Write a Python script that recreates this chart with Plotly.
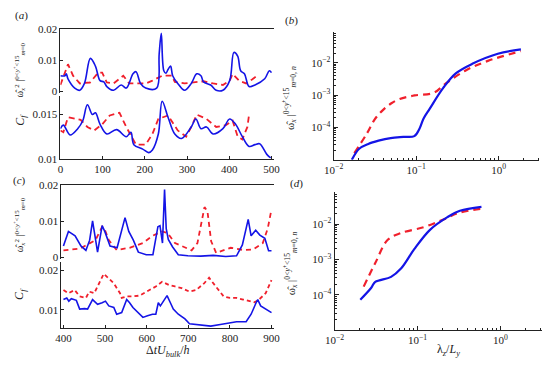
import plotly.graph_objects as go

W, H = 549, 366

# ---------------- data ----------------
# panel (a) top: vorticity energy vs time (0..500)
a_top_blue_x = [0, 11, 14, 18, 34, 46, 57, 71, 83, 94, 103, 110, 126, 144, 156, 172, 179, 190, 202, 228,
                234, 239, 245, 250, 255, 261, 266, 278, 294, 310, 323, 333, 339, 356, 369, 385, 401, 411,
                420, 427, 436, 447, 461, 484, 495, 500]
a_top_blue_y = [0.005, 0.005, 0.0056, 0.004, 0.001, 0.0003, 0.0025, 0.0106, 0.0081, 0.0034, 0.003, 0.0015,
                0.0003, 0.002, 0.001, 0.0056, 0.0063, 0.0025, 0.001, 0.001, 0.012, 0.0187, 0.0066, 0.0058,
                0.007, 0.0081, 0.005, 0.0025, 0.0003, 0.0025, 0.0056, 0.005, 0.003, 0.002, 0.0003, 0.0003,
                0.0034, 0.0125, 0.0113, 0.0066, 0.0056, 0.0015, 0.002, 0.004, 0.0066, 0.006]
a_top_red_x = [0, 8, 18, 30, 46, 70, 90, 99, 110, 126, 149, 163, 202, 218, 241, 264, 271, 294, 320, 339,
               362, 385, 401, 408, 424, 440, 454, 466]
a_top_red_y = [0.002, 0.005, 0.0087, 0.005, 0.0025, 0.0028, 0.006, 0.006, 0.0028, 0.0025, 0.005, 0.0025,
               0.0025, 0.0034, 0.005, 0.005, 0.003, 0.0025, 0.0028, 0.0032, 0.0025, 0.002, 0.0034, 0.0056,
               0.0033, 0.0025, 0.0038, 0.005]

# panel (a) bottom: Cf vs time
a_cf_blue_x = [0, 7, 23, 41, 53, 64, 76, 83, 94, 110, 133, 156, 167, 174, 195, 209, 218, 232, 241, 255,
               271, 287, 310, 321, 333, 346, 362, 385, 401, 415, 431, 447, 461, 472, 489, 498]
a_cf_blue_y = [0.0134, 0.0138, 0.0127, 0.0134, 0.0143, 0.0161, 0.015, 0.0152, 0.0139, 0.0128, 0.0133,
               0.0125, 0.013, 0.0116, 0.0111, 0.0107, 0.011, 0.0128, 0.0165, 0.0147, 0.0128, 0.0123,
               0.0136, 0.0145, 0.0134, 0.0136, 0.0128, 0.0134, 0.0145, 0.0139, 0.0125, 0.0114, 0.0116,
               0.0117, 0.0105, 0.0101]
a_cf_red_x = [0, 7, 18, 34, 48, 64, 80, 99, 117, 140, 156, 179, 202, 218, 232, 255, 278, 298, 310, 323,
              346, 369, 392, 408, 420, 431, 443, 447]
a_cf_red_y = [0.0132, 0.013, 0.0147, 0.0145, 0.0144, 0.0136, 0.0132, 0.0139, 0.0149, 0.0152, 0.0136,
              0.0116, 0.0116, 0.0128, 0.0145, 0.0149, 0.0132, 0.0125, 0.0136, 0.015, 0.0145, 0.0136,
              0.0138, 0.0143, 0.0125, 0.0122, 0.0136, 0.015]

# panel (c) top
c_top_blue_x = [400, 412, 428, 442, 454, 463, 470, 482, 493, 500, 512, 529, 548, 557, 568, 580, 599, 615,
                627, 632, 638, 643, 647, 652, 662, 676, 699, 730, 760, 790, 816, 830, 844, 851, 862, 872,
                884, 893, 900]
c_top_blue_y = [0.0032, 0.0072, 0.006, 0.0032, 0.002, 0.0048, 0.0101, 0.0015, 0.0088, 0.007, 0.0032,
                0.0027, 0.011, 0.0072, 0.0048, 0.0015, 0.0008, 0.0008, 0.0085, 0.0088, 0.004, 0.0187,
                0.008, 0.005, 0.003, 0.0008, 0.0005, 0.0004, 0.0006, 0.0003, 0.0005, 0.0035, 0.0105,
                0.006, 0.0075, 0.0062, 0.0053, 0.0019, 0.0019]
c_top_red_x = [400, 412, 440, 477, 493, 500, 509, 528, 559, 591, 614, 637, 650, 668, 690, 708, 722, 739,
               746, 755, 767, 785, 802, 832, 855, 879, 891, 900]
c_top_red_y = [0.002, 0.0021, 0.0025, 0.0048, 0.0085, 0.0075, 0.0048, 0.0021, 0.0027, 0.004, 0.006,
               0.0072, 0.0068, 0.004, 0.0028, 0.002, 0.004, 0.0139, 0.0128, 0.0045, 0.0013, 0.0021,
               0.0027, 0.0021, 0.0022, 0.004, 0.008, 0.0133]

# panel (c) bottom
c_cf_blue_x = [400, 408, 413, 419, 431, 439, 451, 458, 470, 482, 493, 501, 509, 521, 528, 540, 552, 559,
               567, 579, 591, 602, 614, 622, 628, 633, 641, 649, 657, 664, 676, 692, 703, 723, 754, 777,
               800, 816, 839, 851, 863, 867, 874, 886, 900]
c_cf_blue_y = [0.0126, 0.013, 0.0122, 0.0128, 0.0124, 0.0102, 0.0103, 0.0102, 0.0126, 0.0114, 0.0118,
               0.0122, 0.011, 0.0106, 0.0089, 0.0093, 0.0126, 0.0118, 0.0106, 0.0093, 0.0081, 0.0085,
               0.0089, 0.0089, 0.0118, 0.011, 0.0122, 0.0136, 0.0118, 0.0102, 0.0089, 0.0077, 0.0065,
               0.0063, 0.0059, 0.0063, 0.0067, 0.007, 0.007, 0.0089, 0.0118, 0.0126, 0.011, 0.0102, 0.0093]
c_cf_red_x = [400, 412, 427, 439, 454, 462, 474, 486, 497, 509, 521, 536, 540, 552, 567, 583, 606, 622,
              637, 653, 668, 684, 703, 719, 738, 750, 769, 785, 800, 816, 832, 847, 859, 870, 886, 900]
c_cf_red_y = [0.015, 0.0142, 0.015, 0.0134, 0.013, 0.0146, 0.0142, 0.0167, 0.0191, 0.0179, 0.0167,
              0.0142, 0.013, 0.0134, 0.0134, 0.0136, 0.015, 0.0159, 0.0171, 0.0163, 0.0159, 0.0155,
              0.0146, 0.015, 0.0167, 0.0181, 0.0155, 0.0134, 0.013, 0.013, 0.0126, 0.0122, 0.0119,
              0.0126, 0.0142, 0.0175]

# panel (b): spectra vs lambda_z / L_y
b_blue_x = [0.0166, 0.0204, 0.0263, 0.035, 0.049, 0.07, 0.095, 0.11, 0.123, 0.145, 0.214, 0.302, 0.479, 0.977, 1.86]
b_blue_y = [1.0e-5, 2.2e-5, 3.1e-5, 3.9e-5, 4.7e-5, 5.1e-5, 5.4e-5, 9.3e-5, 1.9e-4, 3.7e-4, 1.7e-3, 4.7e-3, 9.3e-3, 1.9e-2, 2.6e-2]
b_red_x = [0.0178, 0.0251, 0.0316, 0.0398, 0.0501, 0.0631, 0.0955, 0.162, 0.229, 0.398, 0.741, 1.86]
b_red_y = [1.6e-5, 6.3e-5, 1.8e-4, 3.5e-4, 5.6e-4, 7.6e-4, 9.8e-4, 1.17e-3, 2.3e-3, 5.8e-3, 1.15e-2, 2.3e-2]

# panel (d)
d_blue_x = [0.0204, 0.0275, 0.0309, 0.0479, 0.0631, 0.0912, 0.141, 0.229, 0.324, 0.589]
d_blue_y = [7.2e-5, 1.55e-4, 2.3e-4, 3.2e-4, 5.5e-4, 1.95e-3, 6.9e-3, 1.58e-2, 2.4e-2, 3.1e-2]
d_red_x = [0.0224, 0.0309, 0.0437, 0.0631, 0.12, 0.209, 0.324, 0.589]
d_red_y = [1.7e-4, 7.9e-4, 3.6e-3, 5.6e-3, 8.3e-3, 1.38e-2, 2.14e-2, 2.75e-2]

lin_ticks = [0, 0.01, 0.02]
lin_ticktext = ["0", "0.01", "0.02"]
log_major = [1e-4, 1e-3, 1e-2]
log_major_text = ["10<sup>−4</sup>", "10<sup>−3</sup>", "10<sup>−2</sup>"]
x_log_major = [0.01, 0.1, 1]
x_log_major_text = ["10<sup>−2</sup>", "10<sup>−1</sup>", "10<sup>0</sup>"]
minor_vals = [k * 10 ** e for e in range(-6, 2) for k in range(2, 10)]

BLUE = "#1414e6"
RED = "#f0202c"
FONT = "Liberation Serif"


def dom_x(p0, p1):
    return [p0 / W, p1 / W]


def dom_y(top, bottom):
    return [1 - bottom / H, 1 - top / H]


fig = go.Figure()


def add(x, y, xa, ya, color, dash=None, width=1.6, shape="linear"):
    fig.add_trace(go.Scatter(x=x, y=y, xaxis=xa, yaxis=ya, mode="lines",
                             line=dict(color=color, width=width, dash=dash, shape=shape),
                             showlegend=False, hoverinfo="skip"))


add(a_top_red_x, a_top_red_y, "x", "y", RED, "6px,4px", 1.8)
add(a_top_blue_x, a_top_blue_y, "x", "y", BLUE, None, 1.6, "spline")
add(a_cf_red_x, a_cf_red_y, "x2", "y2", RED, "6px,4px", 1.8)
add(a_cf_blue_x, a_cf_blue_y, "x2", "y2", BLUE, None, 1.6, "spline")
add(c_top_red_x, c_top_red_y, "x3", "y3", RED, "5px,4px", 1.8)
add(c_top_blue_x, c_top_blue_y, "x3", "y3", BLUE, None, 1.6)
add(c_cf_red_x, c_cf_red_y, "x4", "y4", RED, "4px,3px", 1.8)
add(c_cf_blue_x, c_cf_blue_y, "x4", "y4", BLUE, None, 1.6)
add(b_red_x, b_red_y, "x5", "y5", RED, "7px,5px", 2.2, "spline")
add(b_blue_x, b_blue_y, "x5", "y5", BLUE, None, 2.2, "spline")
add(d_red_x, d_red_y, "x6", "y6", RED, "7px,5px", 2.2, "spline")
add(d_blue_x, d_blue_y, "x6", "y6", BLUE, None, 2.2, "spline")

tickfont = dict(family=FONT, size=11, color="#222")
common = dict(showgrid=False, zeroline=False, linecolor="#222", linewidth=1, tickcolor="#222",
              tickfont=tickfont)
minor = dict(ticks="inside", ticklen=2, tickmode="array", tickvals=minor_vals, tickcolor="#222")

layout = dict(
    width=W, height=H, margin=dict(l=0, r=0, t=0, b=0),
    paper_bgcolor="white", plot_bgcolor="white",
    # (a) top
    xaxis=dict(domain=dom_x(52, 272), range=[0, 505], anchor="y", side="top", showline=True,
               ticks="", showticklabels=False, **common),
    yaxis=dict(domain=dom_y(24, 90), range=[-0.0006, 0.02], anchor="x", showline=True,
               ticks="inside", ticklen=3, tickvals=lin_ticks, ticktext=lin_ticktext, **common),
    # (a) Cf
    xaxis2=dict(domain=dom_x(52, 272), range=[0, 505], anchor="y2", showline=True,
                ticks="inside", ticklen=3, tickvals=[0, 100, 200, 300, 400, 500], **common),
    yaxis2=dict(domain=dom_y(93, 158), range=[0.01, 0.0171], anchor="x2", showline=True,
                ticks="inside", ticklen=3, tickvals=[0.01, 0.015], ticktext=["0.01", "0.015"], **common),
    # (c) top
    xaxis3=dict(domain=dom_x(53, 272), range=[395, 905], anchor="y3", side="top", showline=True,
                ticks="", showticklabels=False, **common),
    yaxis3=dict(domain=dom_y(185, 262), range=[-0.0005, 0.02], anchor="x3", showline=True,
                ticks="inside", ticklen=3, tickvals=lin_ticks, ticktext=lin_ticktext, **common),
    # (c) Cf
    xaxis4=dict(domain=dom_x(53, 272), range=[395, 905], anchor="y4", showline=True,
                ticks="inside", ticklen=3, tickvals=[400, 500, 600, 700, 800, 900], **common),
    yaxis4=dict(domain=dom_y(265, 333), range=[0.0054, 0.022], anchor="x4", showline=True,
                ticks="inside", ticklen=3, tickvals=[0.01, 0.02], ticktext=["0.01", "0.02"], **common),
    # (b)
    xaxis5=dict(domain=dom_x(334, 546), type="log", range=[-2, 0.49], anchor="y5", showline=True,
                ticks="inside", ticklen=4, tickvals=x_log_major, ticktext=x_log_major_text,
                minor=minor, **common),
    yaxis5=dict(domain=dom_y(27, 159), type="log", range=[-5, -1.05], anchor="x5", showline=True,
                ticks="inside", ticklen=4, tickvals=log_major, ticktext=log_major_text,
                minor=minor, **common),
    # (d)
    xaxis6=dict(domain=dom_x(335, 549), type="log", range=[-2, 0.5], anchor="y6", showline=True,
                ticks="inside", ticklen=4, tickvals=x_log_major, ticktext=x_log_major_text,
                minor=minor, **common),
    yaxis6=dict(domain=dom_y(192, 335), type="log", range=[-5, -1.08], anchor="x6", showline=True,
                ticks="inside", ticklen=4, tickvals=log_major, ticktext=log_major_text,
                minor=minor, **common),
)
fig.update_layout(**layout)


def ann(text, px, py, size=11, angle=0):
    fig.add_annotation(text=text, x=px / W, y=1 - py / H, xref="paper", yref="paper",
                       showarrow=False, textangle=angle, xanchor="center", yanchor="middle",
                       font=dict(family=FONT, size=size, color="#222"))


ann("(<i>a</i>)", 12, 10, 11)
ann("(<i>b</i>)", 291, 15, 11)
ann("(<i>c</i>)", 10, 180, 11)
ann("(<i>d</i>)", 296, 183, 11)

w2 = "ω̂<sub><i>x</i></sub><sup>2</sup> |<sup>0&lt;<i>y</i><sup>+</sup>&lt;15</sup><sub><i>m</i>=0</sub>"
ann(w2, 10, 66, 10, -90)
ann(w2, 10, 226, 10, -90)
ann("<i>C<sub>f</sub></i>", 11, 118, 12, -90)
ann("<i>C<sub>f</sub></i>", 11, 298, 12, -90)
wn = "ω̂<sub><i>x</i></sub> |<sup>0&lt;<i>y</i><sup>+</sup>&lt;15</sup><sub><i>m</i>=0, <i>n</i></sub>"
ann(wn, 289, 95, 11, -90)
ann(wn, 289, 266, 11, -90)
ann("Δ<i>tU<sub>bulk</sub></i>/<i>h</i>", 163, 357, 12)
ann("λ<sub><i>z</i></sub>/<i>L<sub>y</sub></i>", 453, 356, 12)

fig.write_html("out.html")
